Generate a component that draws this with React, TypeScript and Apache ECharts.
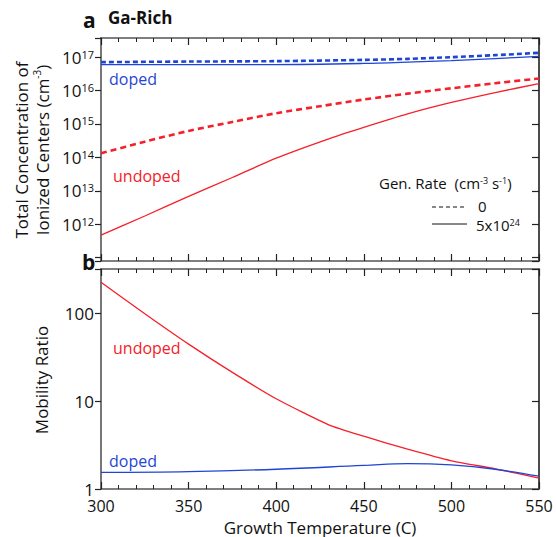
import React, { useEffect, useRef } from 'react';
import * as echarts from 'echarts';

// Panel a: total concentration of ionized centers (cm^-3)
const tempsUndopedLit = [300, 325, 350, 375, 400, 430, 450, 475, 500, 525, 550];
const undopedLit = [4.7e11, 1.76e12, 6.8e12, 2.5e13, 9.5e13, 3.6e14, 7.9e14, 2.0e15, 4.4e15, 8.7e15, 1.62e16];
const tempsUndopedDark = [300, 325, 350, 375, 400, 425, 450, 475, 500, 525, 550];
const undopedDark = [1.32e14, 2.95e14, 6.2e14, 1.15e15, 2.1e15, 3.4e15, 5.4e15, 8.1e15, 1.17e16, 1.66e16, 2.3e16];
const tempsDoped = [300, 350, 400, 450, 475, 500, 525, 550];
const dopedDark = [7.1e16, 7.4e16, 7.6e16, 8.3e16, 8.9e16, 1.0e17, 1.15e17, 1.35e17];
const dopedLit = [6.0e16, 6.0e16, 6.0e16, 6.5e16, 7.1e16, 7.9e16, 9.1e16, 1.05e17];

// Panel b: mobility ratio
const tempsMobUndoped = [300, 325, 350, 375, 400, 430, 450, 475, 500, 525, 550];
const mobUndoped = [229, 100, 45, 21.4, 10.7, 5.4, 4.0, 2.85, 2.1, 1.7, 1.33];
const tempsMobDoped = [300, 350, 400, 450, 475, 500, 525, 550];
const mobDoped = [1.55, 1.58, 1.68, 1.86, 1.95, 1.88, 1.68, 1.4];

const zip = (xs: number[], ys: number[]) => xs.map((x, i) => [x, ys[i]]);

const RED = '#f5202a';
const BLUE = '#1f45d6';
const FONT = 'Open Sans';

export default function App() {
  const ref = useRef<HTMLDivElement>(null);
  useEffect(() => {
    if (!ref.current) return;
    const chart = echarts.init(ref.current, null, { renderer: 'svg' });
    const xBase = (gridIndex: number, position: 'top' | 'bottom', labels: boolean) => ({
      type: 'value',
      gridIndex,
      position,
      min: 300,
      max: 550,
      interval: 50,
      axisLine: { show: true, onZero: false, lineStyle: { color: '#555', width: 1.5 } },
      axisTick: { show: true, inside: true, length: 7, lineStyle: { color: '#222', width: 1.2 } },
      minorTick: { show: true, splitNumber: 5, length: 4, lineStyle: { color: '#222', width: 1 } },
      splitLine: { show: false },
      axisLabel: {
        show: labels,
        fontFamily: FONT,
        fontSize: 16,
        color: '#111',
        margin: 9,
      },
      ...(labels
        ? {
            name: 'Growth Temperature (C)',
            nameLocation: 'middle',
            nameGap: 30,
            nameTextStyle: { fontFamily: FONT, fontSize: 17, color: '#111' },
          }
        : {}),
    });
    const topFmt = (v: number) => {
      const e = Math.log10(v);
      const r = Math.round(e);
      if (Math.abs(e - r) > 0.01 || r < 12) return '';
      return `10{sup|${r}}`;
    };
    const botFmt = (v: number) => {
      const e = Math.log10(v);
      const r = Math.round(e);
      if (Math.abs(e - r) > 0.01) return '';
      return String(Math.round(v));
    };
    const yBase = (gridIndex: number, position: 'left' | 'right', min: number, max: number, fmt: any) => ({
      type: 'log',
      logBase: 10,
      gridIndex,
      position,
      min,
      max,
      axisLine: {
        show: true,
        onZero: false,
        lineStyle: position === 'left' ? { color: '#777', width: 2 } : { color: '#111', width: 1.5 },
      },
      axisTick: {
        show: true,
        inside: position === 'right',
        length: position === 'right' ? 7 : 6,
        lineStyle: { color: '#222', width: 1.2 },
      },
      minorTick: { show: false },
      splitLine: { show: false },
      axisLabel: {
        show: position === 'left',
        formatter: fmt,
        fontFamily: FONT,
        fontSize: 17,
        color: '#111',
        margin: 7,
        rich: {
          sup: { fontFamily: FONT, fontSize: 11, verticalAlign: 'top', color: '#111' },
        },
      },
    });

    const topMin = 7.9e10;
    const topMax = 3.75e17;
    const botMin = 1;
    const botMax = 324;

    const option: any = {
      animation: false,
      backgroundColor: '#fff',
      grid: [
        { left: 101, right: 17, top: 38, height: 223 },
        { left: 101, right: 17, top: 269, height: 221 },
      ],
      xAxis: [
        xBase(0, 'bottom', false),
        xBase(0, 'top', false),
        xBase(1, 'bottom', true),
        xBase(1, 'top', false),
      ],
      yAxis: [
        yBase(0, 'left', topMin, topMax, topFmt),
        yBase(0, 'right', topMin, topMax, topFmt),
        yBase(1, 'left', botMin, botMax, botFmt),
        yBase(1, 'right', botMin, botMax, botFmt),
      ],
      series: [
        {
          type: 'line', xAxisIndex: 0, yAxisIndex: 0, data: zip(tempsDoped, dopedDark),
          showSymbol: false, smooth: 0.3, lineStyle: { color: BLUE, width: 2.6, type: [5, 3] },
        },
        {
          type: 'line', xAxisIndex: 0, yAxisIndex: 0, data: zip(tempsDoped, dopedLit),
          showSymbol: false, smooth: 0.3, lineStyle: { color: BLUE, width: 1.3 },
        },
        {
          type: 'line', xAxisIndex: 0, yAxisIndex: 0, data: zip(tempsUndopedDark, undopedDark),
          showSymbol: false, smooth: 0.3, lineStyle: { color: RED, width: 2.6, type: [6, 4] },
        },
        {
          type: 'line', xAxisIndex: 0, yAxisIndex: 0, data: zip(tempsUndopedLit, undopedLit),
          showSymbol: false, smooth: 0.2, lineStyle: { color: RED, width: 1.3 },
        },
        {
          type: 'line', xAxisIndex: 2, yAxisIndex: 2, data: zip(tempsMobUndoped, mobUndoped),
          showSymbol: false, smooth: 0.2, lineStyle: { color: RED, width: 1.3 },
        },
        {
          type: 'line', xAxisIndex: 2, yAxisIndex: 2, data: zip(tempsMobDoped, mobDoped),
          showSymbol: false, smooth: 0.4, lineStyle: { color: BLUE, width: 1.3 },
        },
      ],
      graphic: [
        { type: 'text', left: 83, top: 9, style: { text: 'a', font: `bold 21px "${FONT}"`, fill: '#111' } },
        { type: 'text', left: 108, top: 9, style: { text: 'Ga-Rich', font: `bold 17px "${FONT}"`, fill: '#111' } },
        { type: 'text', left: 82, top: 251, style: { text: 'b', font: `bold 21px "${FONT}"`, fill: '#111' } },
        {
          type: 'text', x: 32, y: 150, rotation: Math.PI / 2,
          style: {
            text: 'Total Concentration of\nIonized Centers (cm{sup|-3})',
            font: `17px "${FONT}"`, fill: '#111', align: 'center', verticalAlign: 'middle', lineHeight: 21,
            rich: { sup: { fontFamily: FONT, fontSize: 10, verticalAlign: 'top', fill: '#111' } },
          },
        },
        {
          type: 'text', x: 41, y: 380, rotation: Math.PI / 2,
          style: { text: 'Mobility Ratio', font: `17px "${FONT}"`, fill: '#111', align: 'center', verticalAlign: 'middle' },
        },
        // in-plot labels
        { type: 'text', x: 109, y: 79, style: { text: 'doped', font: `16px "${FONT}"`, fill: BLUE, verticalAlign: 'middle' } },
        { type: 'text', x: 113, y: 176, style: { text: 'undoped', font: `16px "${FONT}"`, fill: RED, verticalAlign: 'middle' } },
        { type: 'text', x: 113, y: 348, style: { text: 'undoped', font: `16px "${FONT}"`, fill: RED, verticalAlign: 'middle' } },
        { type: 'text', x: 109, y: 461, style: { text: 'doped', font: `16px "${FONT}"`, fill: BLUE, verticalAlign: 'middle' } },
        // legend
        {
          type: 'text', x: 379, y: 183,
          style: {
            text: 'Gen. Rate  (cm{sup|-3} s{sup|-1})',
            font: `15px "${FONT}"`, fill: '#111', verticalAlign: 'middle',
            rich: { sup: { fontFamily: FONT, fontSize: 9, verticalAlign: 'top', fill: '#111' } },
          },
        },
        { type: 'line', shape: { x1: 432, y1: 207, x2: 467, y2: 207 }, style: { stroke: '#111', lineWidth: 1, lineDash: [4, 3] } },
        { type: 'text', x: 478, y: 206, style: { text: '0', font: `15px "${FONT}"`, fill: '#111', verticalAlign: 'middle' } },
        { type: 'line', shape: { x1: 432, y1: 224, x2: 467, y2: 224 }, style: { stroke: '#111', lineWidth: 1 } },
        {
          type: 'text', x: 476, y: 225,
          style: {
            text: '5x10{sup|24}', font: `15px "${FONT}"`, fill: '#111', verticalAlign: 'middle',
            rich: { sup: { fontFamily: FONT, fontSize: 9, verticalAlign: 'top', fill: '#111' } },
          },
        },
      ],
    };
    chart.setOption(option);
    return () => chart.dispose();
  }, []);
  return <div ref={ref} style={{ width: 556, height: 537, position: 'absolute', left: 0, top: 0 }} />;
}
